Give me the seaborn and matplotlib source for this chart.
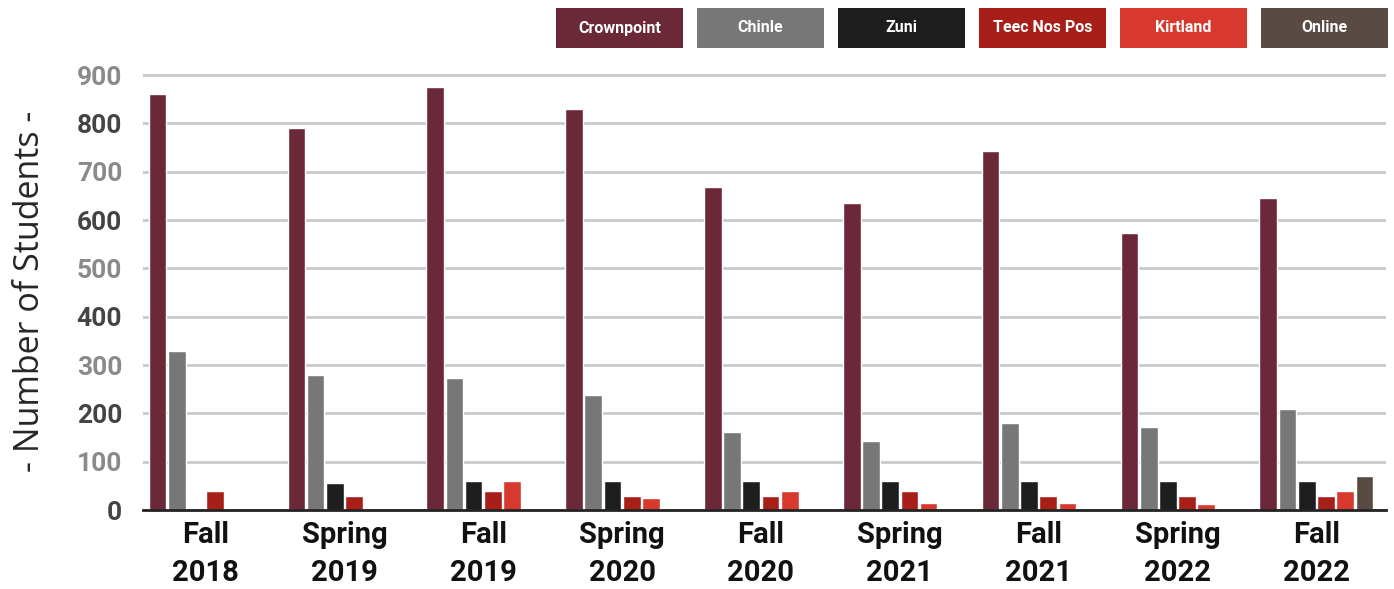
import pandas as pd
import matplotlib.pyplot as plt
import seaborn as sns
from matplotlib.patches import Rectangle

# --- Data ---
terms = ['Fall\n2018', 'Spring\n2019', 'Fall\n2019', 'Spring\n2020', 'Fall\n2020',
         'Spring\n2021', 'Fall\n2021', 'Spring\n2022', 'Fall\n2022']
campuses = ['Crownpoint', 'Chinle', 'Zuni', 'Teec Nos Pos', 'Kirtland', 'Online']

crownpoint = [860, 790, 875, 830, 668, 635, 743, 573, 645]
chinle = [330, 280, 273, 238, 162, 142, 180, 172, 210]
zuni = [None, 55, 60, 60, 60, 60, 60, 60, 60]
teec_nos_pos = [40, 30, 40, 30, 30, 40, 30, 30, 30]
kirtland = [None, None, 60, 25, 40, 15, 15, 12, 40]
online = [None, None, None, None, None, None, None, None, 70]

colors = ['#6a2838', '#777777', '#1e1e1e', '#a81e18', '#d8392f', '#5a4a44']

# --- Long format table ---
series = [crownpoint, chinle, zuni, teec_nos_pos, kirtland, online]
rows = []
for campus, values in zip(campuses, series):
    for term, v in zip(terms, values):
        if v is not None:
            rows.append({'term': term, 'campus': campus, 'students': v})
df = pd.DataFrame(rows)

# --- Plot ---
sns.set_style('white')
plt.rcParams['font.family'] = ['Roboto', 'DejaVu Sans']

fig = plt.figure(figsize=(13.94, 5.89), dpi=100)
ax = fig.add_axes([0.1026, 0.134, 0.8915, 0.7468])

sns.barplot(data=df, x='term', y='students', hue='campus', order=terms,
            hue_order=campuses, palette=colors, width=0.83, gap=0.08,
            saturation=1, legend=False, ax=ax)

ax.set_xlim(-0.45, 8.5)
ax.set_ylim(0, 910)
ax.set_yticks(range(0, 1000, 100))
ax.yaxis.grid(True, color='#c9c9c9', linewidth=2)
ax.set_axisbelow(True)
for side in ['top', 'right', 'left']:
    ax.spines[side].set_visible(False)
ax.spines['bottom'].set_color('#222222')
ax.spines['bottom'].set_linewidth(2)

ax.tick_params(axis='y', length=5, width=1, color='#999999', pad=10, labelsize=19)
ax.tick_params(axis='x', length=0, pad=8, labelsize=21)
for i, lbl in enumerate(ax.get_yticklabels()):
    lbl.set_fontweight('bold')
    lbl.set_color('#444444' if i % 2 == 0 else '#8a8a8a')
for lbl in ax.get_xticklabels():
    lbl.set_fontweight('bold')
    lbl.set_color('#111111')
    lbl.set_linespacing(1.45)

ax.set_xlabel('')
ax.set_ylabel('')
fig.text(0.0215, 0.505, '- Number of Students -', rotation=90, ha='center',
         va='center', fontsize=24.5, family=['Open Sans', 'DejaVu Sans'])

# --- Legend boxes along the top ---
box_left = 556 / 1394
box_w = 127 / 1394
box_step = 141 / 1394
box_b = 1 - 48 / 589
box_h = 40 / 589
for i, (campus, c) in enumerate(zip(campuses, colors)):
    x0 = box_left + i * box_step
    fig.add_artist(Rectangle((x0, box_b), box_w, box_h, transform=fig.transFigure,
                             facecolor=c, edgecolor='none'))
    fig.text(x0 + box_w / 2, box_b + box_h / 2, campus, ha='center', va='center',
             color='white', fontsize=11.5, fontweight='bold')

fig.savefig('out.png', dpi=100)
